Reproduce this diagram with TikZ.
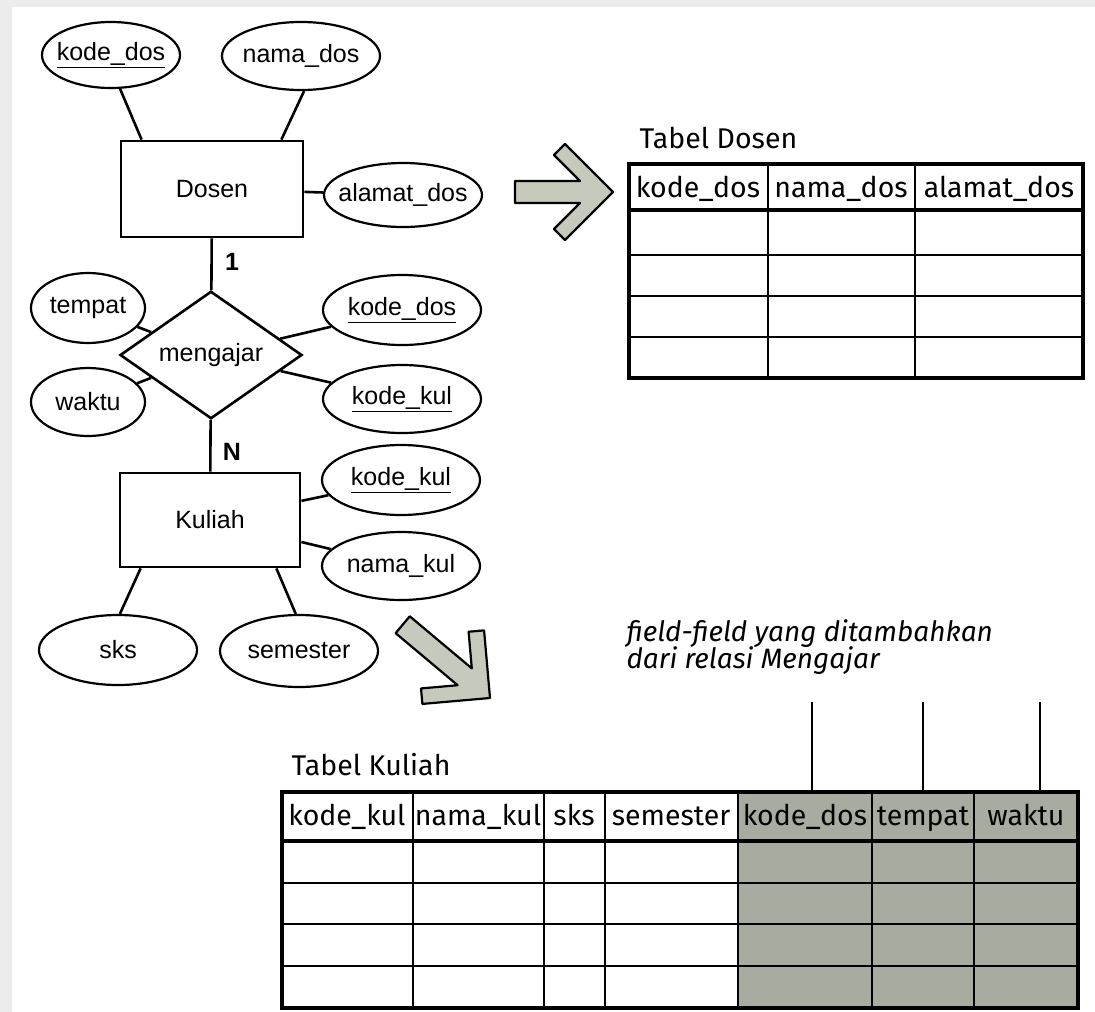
\documentclass[tikz,border=0pt]{standalone}
\usepackage{fontspec}
\setmainfont{Liberation Sans}
\newfontfamily\tabelfont{Fira Sans}
\usepackage{tikz}
\usetikzlibrary{shapes,positioning}

\definecolor{abuhijau}{RGB}{168,172,160}
\definecolor{abupanah}{RGB}{198,202,188}
\newcommand{\erfont}{\fontsize{25}{30}\selectfont}
\newcommand{\tbfont}{\tabelfont\fontsize{28.5}{32}\selectfont}
\newcommand{\blokpanah}[4]{%
  \draw[panah, shift={(#1,#2)}, rotate=#3] (-#4,11) -- (-33,11) -- (-59,37) -- (-48,48) -- (0,0)
    -- (-48,-48) -- (-59,-37) -- (-33,-11) -- (-#4,-11) -- cycle;}

\begin{document}
\begin{tikzpicture}[x=1pt, y=-1pt,
    entitas/.style={draw, line width=2.8pt, minimum width=182pt, minimum height=96pt, font=\erfont},
    atribut/.style={draw, ellipse, line width=2.2pt, inner xsep=-10pt, inner ysep=0pt,
      minimum width=158pt, minimum height=68pt, font=\erfont},
    relasi/.style={draw, diamond, line width=2.6pt, inner sep=0pt,
      minimum width=182pt, minimum height=94pt, font=\erfont},
    garis/.style={line width=2.6pt},
    kardinal/.style={font=\erfont\bfseries},
    panah/.style={line width=2.2pt, fill=abupanah, line join=round},
    kepala/.style={font=\tbfont, anchor=base},
    sel/.style={line width=2pt},
  ]
      \fill[gray!15] (0,0) rectangle (1095,1012);
      \fill[white] (12,7) rectangle (1095,1012);
      \useasboundingbox (0,0) rectangle (1095,1012);

      % ER diagram
      \node[entitas] (dosen) at (212,189) {Dosen};
      \node[atribut, minimum width=138pt, minimum height=66pt] (kodedos) at (111,55) {\underline{kode\_dos}};
      \node[atribut] (namados) at (301,56) {nama\_dos};
      \node[atribut, minimum height=64pt] (alamatdos) at (403,195) {alamat\_dos};
      \node[relasi] (mengajar) at (211,355) {mengajar};
      \node[atribut, minimum width=114pt, minimum height=70pt] (tempat) at (88,308) {tempat};
      \node[atribut, minimum width=114pt] (waktu) at (88,402) {waktu};
      \node[atribut, minimum height=70pt] (kdosrel) at (402,310) {\underline{kode\_dos}};
      \node[atribut] (kkulrel) at (402,399) {\underline{kode\_kul}};
      \node[entitas, minimum width=180pt, minimum height=94pt] (kuliah) at (210,520) {Kuliah};
      \node[atribut, minimum height=70pt] (kodekul) at (401,480) {\underline{kode\_kul}};
      \node[atribut] (namakul) at (401,566) {nama\_kul};
      \node[atribut, minimum height=70pt] (sks) at (118,650) {sks};
      \node[atribut, minimum height=72pt] (semester) at (299,651) {semester};
      \node[kardinal] (satu) at (232,262) {1};
      \node[kardinal] (banyak) at (232,452) {N};

      \draw[garis] (kodedos.-75) -- ([xshift=22pt]dosen.north west);
      \draw[garis] (namados.-85) -- ([xshift=-23pt]dosen.north east);
      \draw[garis] (dosen) -- (alamatdos);
      \draw[garis] (dosen) -- (mengajar);
      \draw[garis] (tempat) -- (mengajar);
      \draw[garis] (waktu) -- (mengajar);
      \draw[garis] (kdosrel) -- (mengajar);
      \draw[garis] (kkulrel) -- (mengajar);
      \draw[garis] (mengajar) -- (kuliah);
      \draw[garis] (kuliah) -- (kodekul);
      \draw[garis] (kuliah) -- (namakul);
      \draw[garis] ([xshift=22pt]kuliah.south west) -- (sks.87);
      \draw[garis] ([xshift=-25pt]kuliah.south east) -- (semester.95);

      \blokpanah{613}{192}{0}{98} % to Tabel Dosen
      \blokpanah{490}{698}{-40}{114} % to Tabel Kuliah

      % Tabel Dosen
      \node[font=\tbfont, anchor=base west] (judul-dosen) at (636,148) {Tabel Dosen};
      \foreach \y in {255,296,337} \draw[sel] (629,\y) -- (1083,\y);
      \foreach \x in {768,915} \draw[sel] (\x,164) -- (\x,378);
      \draw[line width=4.5pt] (629,210) -- (1083,210);
      \draw[line width=4pt] (629,164) rectangle (1083,378);
      \node[kepala] (d-kode) at (698,197) {kode\_dos};
      \node[kepala] (d-nama) at (841,197) {nama\_dos};
      \node[kepala] (d-alamat) at (999,197) {alamat\_dos};

      % Tabel Kuliah
      \node[font=\tbfont, anchor=base west] (judul-kuliah) at (288,775) {Tabel Kuliah};
      \fill[abuhijau] (738,792) rectangle (1078,1008);
      \foreach \y in {883,924,966} \draw[sel] (282,\y) -- (1078,\y);
      \foreach \x in {413,544,605,738,872,974} \draw[sel] (\x,792) -- (\x,1008);
      \draw[line width=4.5pt] (282,841) -- (1078,841);
      \draw[line width=4pt] (282,792) rectangle (1078,1008);
      \node[kepala] (k-kode) at (347,825) {kode\_kul};
      \node[kepala] (k-nama) at (478,825) {nama\_kul};
      \node[kepala] (k-sks) at (574,825) {sks};
      \node[kepala] (k-smt) at (671,825) {semester};
      \node[kepala] (k-dos) at (805,825) {kode\_dos};
      \node[kepala] (k-tempat) at (923,825) {tempat};
      \node[kepala] (k-waktu) at (1026,825) {waktu};

      % catatan
      \node[font=\tabelfont\itshape\fontsize{28}{30}\selectfont, anchor=base west] (catatan1) at (623,641) {field-field yang ditambahkan};
      \node[font=\tabelfont\itshape\fontsize{28}{30}\selectfont, anchor=base west] (catatan2) at (623,668) {dari relasi Mengajar};
      \coordinate (f-dos) at (812,702);
      \coordinate (f-tempat) at (923,702);
      \coordinate (f-waktu) at (1040,702);
      \foreach \f in {f-dos,f-tempat,f-waktu} \draw[sel] (\f) -- (\f |- 0,792);
\end{tikzpicture}
\end{document}
